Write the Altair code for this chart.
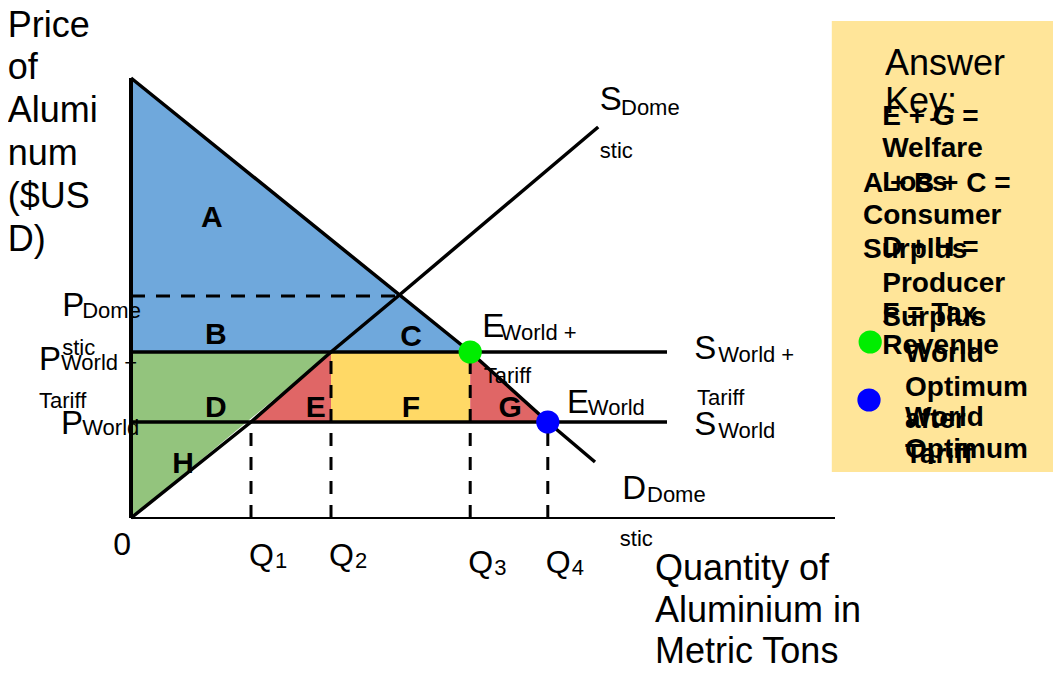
import altair as alt
import pandas as pd

FONT = "Liberation Sans"

# ---- market values (Q in quantity units, P in price units) ----
P_WORLD = 24.0
P_TARIFF = 41.5
P_DOMESTIC = 55.5
Q_DOMESTIC = 33.4
Q_NAMES = ["1", "2", "3", "4"]
Q_VALUES = [15.0, 25.0, 42.4, 52.1]
Q_LABEL_P = [-9.5, -9.5, -11.25, -11.25]
DEMAND_Q = [0.0, 42.4, 52.1, 58.0]
DEMAND_P = [110.0, 41.5, 24.0, 14.0]
SUPPLY_Q = [0.0, 15.0, 25.0, 33.4, 58.4]
SUPPLY_P = [0.0, 24.0, 41.5, 55.5, 97.75]
WORLD_LINE_END = 67.0
X_AXIS_END = 88.0
Y_AXIS_TOP = 110.0

Q1, Q2, Q3, Q4 = Q_VALUES

# ---- annotation texts (q, p, text) ----
AXIS_TEXT = [
    (-15.4, 123.0, "Price"), (-15.4, 112.5, "of"), (-15.4, 101.75, "Alumi"),
    (-15.4, 91.0, "num"), (-15.4, 80.25, "($US"), (-15.4, 69.5, "D)"),
    (65.5, -12.75, "Quantity of"), (65.5, -23.25, "Aluminium in"), (65.5, -33.5, "Metric Tons"),
    (94.25, 113.5, "Answer"), (94.25, 104.0, "Key:"),
]
BIG_LETTERS = [
    (-8.6, 53.0, "P"), (-11.5, 39.5, "P"), (-8.75, 23.5, "P"),
    (58.6, 104.5, "S"), (43.9, 47.75, "E"), (54.5, 28.75, "E"),
    (70.4, 42.25, "S"), (70.4, 23.25, "S"), (61.4, 7.25, "D"),
]
SMALL_TEXT = [
    (-6.1, 51.75, "Dome"), (-8.6, 42.5, "stic"),
    (-8.75, 38.75, "World +"), (-11.5, 29.25, "Tariff"),
    (-6.1, 22.5, "World"),
    (61.25, 102.5, "Dome"), (58.6, 91.75, "stic"),
    (46.2, 46.25, "World +"), (44.1, 35.5, "Tariff"),
    (57.1, 27.5, "World"),
    (73.4, 40.75, "World +"), (70.75, 30.0, "Tariff"),
    (73.4, 21.75, "World"),
    (64.5, 5.75, "Dome"), (61.1, -5.25, "stic"),
]
AREA_LABELS = [
    (10.1, 75.0, "A"), (10.6, 45.75, "B"), (35.0, 45.25, "C"), (10.6, 27.5, "D"),
    (23.1, 27.5, "E"), (35.0, 27.5, "F"), (47.4, 27.5, "G"), (6.5, 13.5, "H"),
]
KEY_TEXT = [
    (93.9, 100.25, "E + G ="), (93.9, 92.25, "Welfare"), (93.9, 83.75, "Loss"),
    (91.5, 83.5, "A + B + C ="), (91.5, 75.5, "Consumer"), (91.5, 67.0, "Surplus"),
    (93.9, 67.5, "D + H ="), (93.9, 58.5, "Producer"), (93.9, 50.0, "Surplus"),
    (93.9, 51.0, "F = Tax"), (93.9, 43.0, "Revenue"),
    (96.75, 41.0, "World"), (96.75, 32.5, "Optimum"), (96.75, 24.5, "after"),
    (96.75, 15.75, "Tariff"),
    (96.75, 25.0, "World"), (96.75, 17.0, "Optimum"),
]
KEY_BOX = (87.6, 115.6, 11.5, 124.25)
KEY_DOTS_Q = [92.4, 92.25]
KEY_DOTS_P = [44.0, 29.5]
DOT_COLORS = ["#00ee00", "#0000ff"]

xs = alt.Scale(domain=[0, X_AXIS_END], nice=False, zero=False)
ys = alt.Scale(domain=[0, Y_AXIS_TOP], nice=False, zero=False)


def X(f):
    return alt.X(f, type="quantitative", scale=xs, axis=None)


def Y(f):
    return alt.Y(f, type="quantitative", scale=ys, axis=None)


def area(qs, top, bottom, color):
    df = pd.DataFrame({"q": qs, "p": top, "p2": bottom})
    return alt.Chart(df).mark_area(color=color, opacity=1).encode(
        x=X("q"), y=Y("p"), y2="p2")


blue = area([0, Q3], [DEMAND_P[0], P_TARIFF], [P_TARIFF, P_TARIFF], "#6fa8dc")
green = area([0, Q2], [P_TARIFF, P_TARIFF], [0, P_TARIFF], "#93c47d")
red_e = area([Q1, Q2], [P_WORLD, P_TARIFF], [P_WORLD, P_WORLD], "#e06666")
red_g = area([Q3, Q4], [P_TARIFF, P_WORLD], [P_WORLD, P_WORLD], "#e06666")
yellow = alt.Chart(pd.DataFrame({"q": [Q2], "q2": [Q3], "p": [P_WORLD], "p2": [P_TARIFF]})).mark_rect(
    color="#ffd966").encode(x=X("q"), x2="q2", y=Y("p"), y2="p2")

# answer key box
box = alt.Chart(pd.DataFrame({"q": [KEY_BOX[0]], "q2": [KEY_BOX[1]], "p": [KEY_BOX[2]], "p2": [KEY_BOX[3]]})).mark_rect(
    color="#ffe599").encode(x=X("q"), x2="q2", y=Y("p"), y2="p2")

# solid curves
rows = []
for i, (q, p) in enumerate(zip(DEMAND_Q, DEMAND_P)):
    rows.append({"line": "demand", "i": i, "q": q, "p": p})
for i, (q, p) in enumerate(zip(SUPPLY_Q, SUPPLY_P)):
    rows.append({"line": "supply", "i": i, "q": q, "p": p})
for name, price in [("tariff", P_TARIFF), ("world", P_WORLD)]:
    rows.append({"line": name, "i": 0, "q": 0.0, "p": price})
    rows.append({"line": name, "i": 1, "q": WORLD_LINE_END, "p": price})
curves = alt.Chart(pd.DataFrame(rows)).mark_line(color="black", strokeWidth=3.5).encode(
    x=X("q"), y=Y("p"), detail="line:N", order="i:Q")

# axes
yaxis = alt.Chart(pd.DataFrame({"q": [0.0], "p": [0.0], "p2": [Y_AXIS_TOP]})).mark_rule(
    color="black", strokeWidth=4).encode(x=X("q"), y=Y("p"), y2="p2")
xaxis = alt.Chart(pd.DataFrame({"q": [0.0], "q2": [X_AXIS_END], "p": [0.0]})).mark_rule(
    color="black", strokeWidth=2).encode(x=X("q"), x2="q2", y=Y("p"))

# dashed guides
vdash = alt.Chart(pd.DataFrame({
    "q": Q_VALUES, "p": [0.0] * 4, "p2": [P_WORLD, P_TARIFF, P_TARIFF, P_WORLD]
})).mark_rule(color="black", strokeWidth=3, strokeDash=[13, 11]).encode(
    x=X("q"), y=Y("p"), y2="p2")
hdash = alt.Chart(pd.DataFrame({"q": [0.0], "q2": [Q_DOMESTIC], "p": [P_DOMESTIC]})).mark_rule(
    color="black", strokeWidth=3, strokeDash=[14, 11]).encode(x=X("q"), x2="q2", y=Y("p"))

# equilibrium dots
dots = alt.Chart(pd.DataFrame({
    "q": [Q3, Q4] + KEY_DOTS_Q, "p": [P_TARIFF, P_WORLD] + KEY_DOTS_P,
    "c": DOT_COLORS + DOT_COLORS,
})).mark_circle(size=540, opacity=1).encode(
    x=X("q"), y=Y("p"), color=alt.Color("c:N", scale=None))


def texts(items, size, weight="normal", align="left"):
    df = pd.DataFrame(items, columns=["q", "p", "t"])
    return alt.Chart(df).mark_text(
        font=FONT, fontSize=size, fontWeight=weight, align=align,
        baseline="middle", color="black").encode(x=X("q"), y=Y("p"), text="t:N")


qdf = pd.DataFrame({"q": Q_VALUES, "p": Q_LABEL_P, "n": Q_NAMES})
q_big = alt.Chart(qdf).mark_text(font=FONT, fontSize=32, align="left", baseline="middle",
                                 dx=-2, color="black").encode(x=X("q"), y=Y("p"), text=alt.value("Q"))
q_sub = alt.Chart(qdf).mark_text(font=FONT, fontSize=22, align="left", baseline="middle",
                                 dx=24, dy=5, color="black").encode(x=X("q"), y=Y("p"), text="n:N")
zero = texts([(-1.1, -6.75, "0")], 32, align="center")

chart = alt.layer(
    box, blue, green, red_e, yellow, red_g,
    hdash, vdash, curves, yaxis, xaxis, dots,
    texts(AXIS_TEXT, 36), texts(BIG_LETTERS, 33), texts(SMALL_TEXT, 22),
    texts(AREA_LABELS, 30, "bold", "center"), texts(KEY_TEXT, 28, "bold"),
    q_big, q_sub, zero,
).properties(
    width=704, height=440,
    autosize=alt.AutoSizeParams(type="none"),
    padding={"left": 123, "top": 70, "right": 218, "bottom": 147},
).configure_view(stroke=None)

chart.save("out.html", embed_options={"renderer": "svg", "actions": False})
